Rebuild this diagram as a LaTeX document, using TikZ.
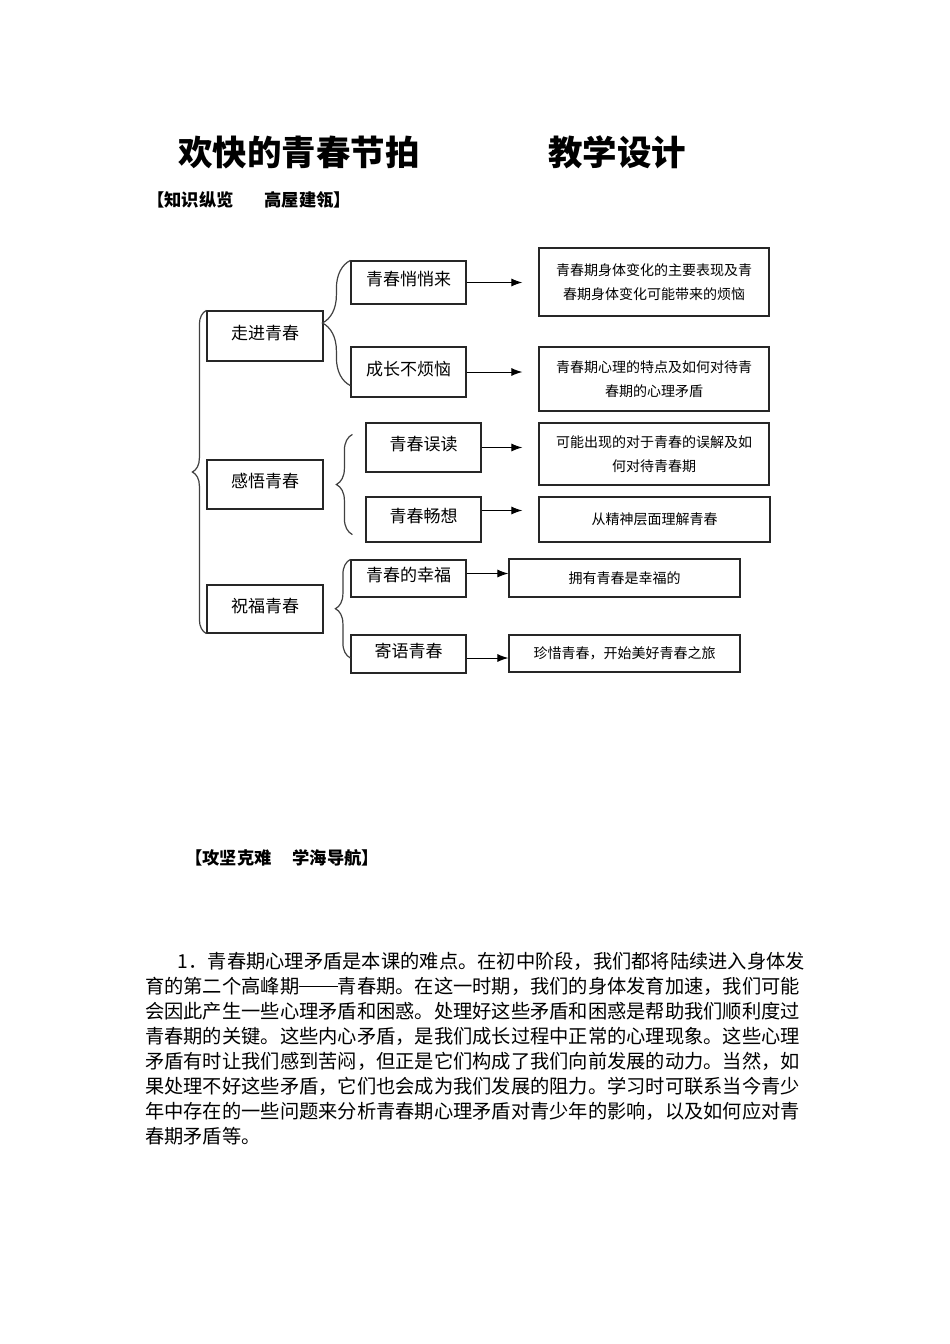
\documentclass[tikz,border=0pt]{standalone}
\usepackage{fontspec}
\newfontfamily\cjk{Noto Sans CJK SC}
\usetikzlibrary{arrows.meta, decorations.pathreplacing}

\begin{document}
\begin{tikzpicture}[
    x=1pt, y=-1pt,
    lvla/.style={draw=black!85, line width=1.2pt, minimum width=116pt, inner sep=0pt, font=\cjk\fontsize{17}{17}\selectfont, text height=13pt, text depth=7pt},
    lvlb/.style={lvla, minimum width=115pt},
    lvlc/.style={draw=black!85, line width=1.2pt, minimum width=230pt, inner sep=0pt, align=center, font=\cjk\fontsize{14}{24}\selectfont},
    arr/.style={-{Latex[length=11pt,width=8pt]}, line width=1pt},
    brc/.style={decorate, decoration={brace, amplitude=#1}, draw=black!75, line width=1.2pt},
    ttl/.style={font=\cjk\bfseries\fontsize{34.5}{36}\selectfont, anchor=west, inner sep=0pt},
    head/.style={font=\cjk\bfseries\fontsize{17.3}{20}\selectfont, anchor=west, inner sep=0pt}
]
    \useasboundingbox (0,0) rectangle (950,1344);
    \fill[white] (0,0) rectangle (950,1344);

    % title and headings
    \node[ttl] (title) at (178,152) {欢快的青春节拍};
    \node[ttl] (title2) at (548,152) {教学设计};
    \node[head] (head1) at (147,200) {【知识纵览\hspace{31pt}高屋建瓴】};
    \node[head] (head2) at (185,858) {【攻坚克难\hspace{21pt}学海导航】};

    % first level
    \node[lvla, minimum height=50pt] (zj) at (265,336) {走进青春};
    \node[lvla, minimum height=49pt] (gw) at (265,484.5) {感悟青春};
    \node[lvla, minimum height=48pt] (zf) at (265,609) {祝福青春};

    % second level
    \node[lvlb, minimum height=43pt] (qq) at (408.5,282.5) {青春悄悄来};
    \node[lvlb, minimum height=50pt] (cz) at (408.5,372) {成长不烦恼};
    \node[lvlb, minimum height=49pt] (wd) at (423.5,447.5) {青春误读};
    \node[lvlb, minimum height=45pt] (cx) at (423.5,519.5) {青春畅想};
    \node[lvlb, minimum height=37pt] (xf) at (408.5,578.5) {青春的幸福};
    \node[lvlb, minimum height=38pt] (jy) at (408.5,654) {寄语青春};

    % third level
    \node[lvlc, minimum height=68pt] (ra) at (654,282) {青春期身体变化的主要表现及青\\春期身体变化可能带来的烦恼};
    \node[lvlc, minimum height=64pt] (rb) at (654,379) {青春期心理的特点及如何对待青\\春期的心理矛盾};
    \node[lvlc, minimum height=62pt] (rc) at (654,454) {可能出现的对于青春的误解及如\\何对待青春期};
    \node[lvlc, minimum height=45pt, minimum width=231pt] (rd) at (654.5,519.5) {从精神层面理解青春};
    \node[lvlc, minimum height=38pt, minimum width=231pt] (re) at (624.5,578) {拥有青春是幸福的};
    \node[lvlc, minimum height=37pt, minimum width=231pt] (rf) at (624.5,653.5) {珍惜青春，开始美好青春之旅};

    % braces
    \draw[brc=14pt] (zf.south west) -- (zj.north west);
    \draw[brc=28pt] ([yshift=12pt]cz.south west) -- (qq.north west);
    \draw[brc=16pt] ([xshift=-13pt,yshift=8pt]cx.south west) -- ([xshift=-13pt,yshift=-12pt]wd.north west);
    \draw[brc=15pt] ([yshift=-4pt]jy.west) -- (xf.north west);

    % arrows
    \coordinate (a4) at ([yshift=9pt]cx.east);
    \coordinate (a5) at ([yshift=5pt]xf.east);
    \coordinate (a6) at ([yshift=-4pt]jy.east);
    \draw[arr, shorten >=16pt] (qq.east) -- (qq.east -| ra.west);
    \draw[arr, shorten >=16pt] (cz.east) -- (cz.east -| rb.west);
    \draw[arr, shorten >=16pt] (wd.east) -- (wd.east -| rc.west);
    \draw[arr, shorten >=16pt] (a4) -- (a4 -| rd.west);
    \draw[arr] (a5) -- (a5 -| re.west);
    \draw[arr] (a6) -- (a6 -| rf.west);

    % paragraph
    \node[anchor=north west, inner sep=0pt, align=left, font=\cjk\fontsize{19.26}{25}\selectfont] (para) at (145,952) {%
        \hspace*{1.7em}1．青春期心理矛盾是本课的难点。在初中阶段，我们都将陆续进入身体发\\
        育的第二个高峰期\rule[0.33em]{2em}{1.4pt}青春期。在这一时期，我们的身体发育加速，我们可能\\
        会因此产生一些心理矛盾和困惑。处理好这些矛盾和困惑是帮助我们顺利度过\\
        青春期的关键。这些内心矛盾，是我们成长过程中正常的心理现象。这些心理\\
        矛盾有时让我们感到苦闷，但正是它们构成了我们向前发展的动力。当然，如\\
        果处理不好这些矛盾，它们也会成为我们发展的阻力。学习时可联系当今青少\\
        年中存在的一些问题来分析青春期心理矛盾对青少年的影响，以及如何应对青\\
        春期矛盾等。};
\end{tikzpicture}
\end{document}
